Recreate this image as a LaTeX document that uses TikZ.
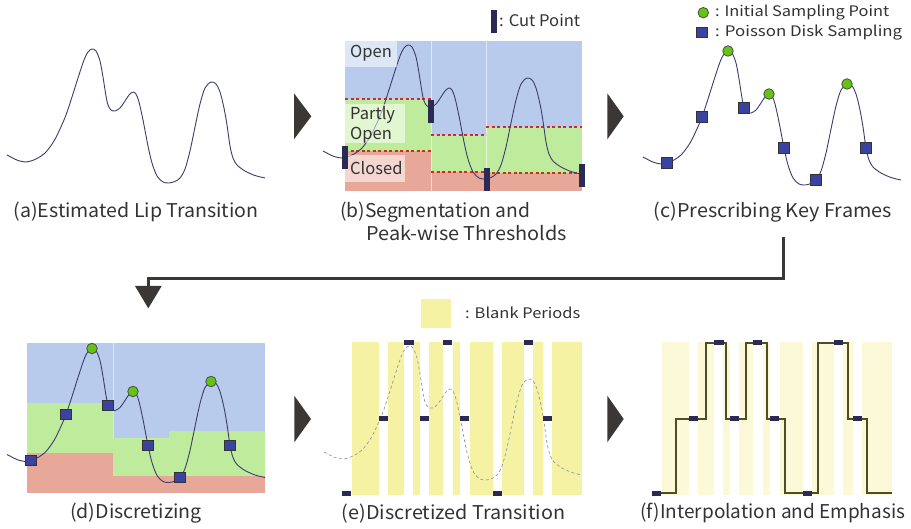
\documentclass[tikz,border=0pt]{standalone}
\usepackage{fontspec}
\usepackage{graphicx}
\setmainfont{Noto Sans CJK JP}
\definecolor{openblue}{RGB}{184,203,236}
\definecolor{partgreen}{RGB}{191,236,156}
\definecolor{closedred}{RGB}{231,168,154}
\definecolor{dashred}{RGB}{205,45,30}
\definecolor{curvecol}{RGB}{60,60,110}
\definecolor{cutcol}{RGB}{42,42,85}
\definecolor{sqfill}{RGB}{58,68,160}
\definecolor{circfill}{RGB}{100,196,20}
\definecolor{blankyellow}{RGB}{245,243,163}
\definecolor{blanklight}{RGB}{251,249,216}
\definecolor{arrowgray}{RGB}{58,55,53}
\definecolor{stepcol}{RGB}{78,78,36}
\definecolor{txt}{RGB}{51,51,51}
\newcommand\fitw[2]{\resizebox{#1}{\height}{#2}}
\newcommand\lipcurve{plot[smooth, tension=0.5] coordinates {(7,155) (18,160.5) (26,162) (31,161) (38,158) (46,152) (54,141) (60,129) (66,115) (72,97) (78,78) (84,60) (88,52) (92,49) (96,51) (100,61) (103,77) (106,96) (108,105) (111,110) (115,111) (120,108) (125,101) (129,95) (133,92) (136,94) (139,102) (143,120) (148,146) (152,163) (157,176) (163,182) (169,183) (175,181.5) (180,178) (185,169) (190,151) (195,127) (200,104) (205,88) (211,82) (216,84) (220,92) (224,108) (227,125) (230,146) (233,158) (237,165) (245,171) (255,175.5) (265,178)}}
\begin{document}
\begin{tikzpicture}[x=1pt,y=-1pt,
  lbl/.style={font=\fontsize{19}{21}\selectfont, text=txt, inner sep=0pt, anchor=west},
  leg/.style={font=\fontsize{14.5}{16}\selectfont, text=txt, inner sep=0pt, anchor=west},
  reg/.style={font=\fontsize{16.5}{18}\selectfont, text=txt, inner sep=0pt, anchor=west},
  lipline/.style={draw=curvecol, line width=0.9pt},
  sqm/.style={draw=black!80, fill=sqfill, minimum size=10.5pt, inner sep=0pt, line width=0.8pt},
  circm/.style={circle, draw=black!70, fill=circfill, minimum size=10.5pt, inner sep=0pt, line width=0.8pt},
  cutmark/.style={fill=cutcol, minimum width=6pt, minimum height=23pt, inner sep=0pt},
  kf/.style={fill=cutcol, minimum width=9.5pt, minimum height=5pt, inner sep=0pt},
  tri/.style={fill=arrowgray},
  conn/.style={draw=arrowgray, line width=3pt},
  thr/.style={draw=dashred, line width=1.7pt, dash pattern=on 3pt off 2.5pt},
  labbox/.style={fill=white, fill opacity=0.55}
]
\useasboundingbox (0,0) rectangle (911,529);
\fill[white] (0,0) rectangle (911,529);

% ---------- (a)
\draw[lipline] \lipcurve;
\node[lbl] (la) at (13.3,211.7) {\fitw{245pt}{(a)Estimated Lip Transition}};

% ---------- (b)
\fill[openblue] (345,41) rectangle (581.7,191);
\fill[partgreen] (345,99.3) rectangle (431,150.7);
\fill[closedred] (345,150.7) rectangle (431,191);
\fill[partgreen] (431,135) rectangle (486,172.3);
\fill[closedred] (431,172.3) rectangle (486,191);
\fill[partgreen] (486,127.3) rectangle (581.7,173.3);
\fill[closedred] (486,173.3) rectangle (581.7,191);
\draw[white, opacity=0.6, line width=0.6pt] (431,41) -- (431,191) (486,41) -- (486,191);
\draw[thr] (345,99.3) -- (431,99.3) (345,150.7) -- (431,150.7);
\draw[thr] (431,135) -- (486,135) (431,172.3) -- (486,172.3);
\draw[thr] (486,127.3) -- (581.7,127.3) (486,173.3) -- (581.7,173.3);
\begin{scope}[shift={(316,-4)}]
\draw[lipline] \lipcurve;
\end{scope}
\fill[labbox] (345,41) rectangle (396.7,66.7);
\fill[labbox] (345,104.3) rectangle (405,143.3);
\fill[labbox] (345,155) rectangle (405,182.3);
\node[reg] (ropen) at (350,53.3) {Open};
\node[reg] (rpart1) at (350,115) {Partly};
\node[reg] (rpart2) at (350,135) {Open};
\node[reg] (rclosed) at (350,167.7) {Closed};
\node[cutmark] (cp1) at (345,157.7) {};
\node[cutmark] (cp2) at (431,111.7) {};
\node[cutmark] (cp3) at (486.7,180) {};
\node[cutmark] (cp4) at (581.7,176) {};
\node[cutmark] (cpleg) at (493.8,21.7) {};
\node[leg, font=\fontsize{16}{18}\selectfont] (cptext) at (499,20.7) {\fitw{81pt}{: Cut Point}};
\node[lbl] (lb1) at (340,211.7) {\fitw{190pt}{(b)Segmentation and}};
\node[lbl] (lb2) at (366.7,233.3) {\fitw{200pt}{Peak-wise Thresholds}};

% ---------- (c)
\begin{scope}[shift={(636,2)}]
\draw[lipline] \lipcurve;
\node[sqm] (c1) at (31,161) {};
\node[sqm] (c2) at (66,115) {};
\node[circm] (c3) at (92,49) {};
\node[sqm] (c4) at (108,106) {};
\node[circm] (c5) at (133,92) {};
\node[sqm] (c6) at (148,146) {};
\node[sqm] (c7) at (180,178) {};
\node[circm] (c8) at (211,82) {};
\node[sqm] (c9) at (230,146) {};
\end{scope}
\node[circm] (legc) at (703.3,12.7) {};
\node[leg] (legct) at (715,12.7) {\fitw{174pt}{: Initial Sampling Point}};
\node[sqm] (legs) at (701.7,32.3) {};
\node[leg] (legst) at (715,32.3) {\fitw{187pt}{: Poisson Disk Sampling}};
\node[lbl] (lc) at (653.3,211.7) {\fitw{238.4pt}{(c)Prescribing Key Frames}};

% ---------- connectors and arrow heads
\coordinate (cstart) at (783.3,236.7);
\coordinate (turn1) at (783.3,279);
\coordinate (turn2) at (148.3,279);
\coordinate (dend) at (148.3,288);
\draw[conn] (cstart) -- (turn1) -- (turn2) -- (dend);
\fill[tri] (135,286) -- (161.7,286) -- (148.3,308.3) -- cycle;
\fill[tri] (294,93.3) -- (311.3,116.3) -- (294,139.3) -- cycle;
\fill[tri] (607.3,93.3) -- (623.7,116.3) -- (607.3,139.3) -- cycle;
\fill[tri] (294.3,395.7) -- (311,419) -- (294.3,442.3) -- cycle;
\fill[tri] (607.3,395.7) -- (623.7,419) -- (607.3,442.3) -- cycle;

% ---------- (d)
\fill[openblue] (26.7,342.7) rectangle (265,493.3);
\fill[partgreen] (26.7,403.3) rectangle (113.3,453.3);
\fill[closedred] (26.7,453.3) rectangle (113.3,493.3);
\fill[partgreen] (113.3,438.3) rectangle (169.3,475.7);
\fill[closedred] (113.3,475.7) rectangle (169.3,493.3);
\fill[partgreen] (169.3,431) rectangle (265,475.7);
\fill[closedred] (169.3,475.7) rectangle (265,493.3);
\draw[white, opacity=0.5, line width=0.6pt] (113.3,342.7) -- (113.3,438.3);
\begin{scope}[shift={(0,299.5)}]
\draw[lipline] \lipcurve;
\node[sqm] (d1) at (31,161) {};
\node[sqm] (d2) at (66,115) {};
\node[circm] (d3) at (92,49) {};
\node[sqm] (d4) at (108,106) {};
\node[circm] (d5) at (133,92) {};
\node[sqm] (d6) at (148,146) {};
\node[sqm] (d7) at (180,178) {};
\node[circm] (d8) at (211,82) {};
\node[sqm] (d9) at (230,146) {};
\end{scope}
\node[lbl] (ld) at (70,513.3) {\fitw{131.7pt}{(d)Discretizing}};

% ---------- (e)
\foreach \a/\b in {351.7/379, 388.3/404, 413.3/420, 429.3/443.3, 453/460.3, 470/492.7, 502.3/524, 533.3/542.7, 552/582}
  \fill[blankyellow] (\a,342) rectangle (\b,495);
\begin{scope}[shift={(317,297)}]
\draw[draw=curvecol!55, line width=0.7pt, dash pattern=on 3pt off 2.5pt] \lipcurve;
\end{scope}
\node[kf] (e1) at (346.7,493.3) {};
\node[kf] (e2) at (383.3,418.7) {};
\node[kf] (e3) at (409,342.7) {};
\node[kf] (e4) at (424.3,418.7) {};
\node[kf] (e5) at (447.7,342.7) {};
\node[kf] (e6) at (464.7,418.7) {};
\node[kf] (e7) at (497.7,493.3) {};
\node[kf] (e8) at (528.7,342.7) {};
\node[kf] (e9) at (547.3,418.7) {};
\node[fill=blankyellow, minimum width=29.7pt, minimum height=29pt, inner sep=0pt] (legy) at (435.8,313.8) {};
\node[leg] (legyt) at (465,312.7) {\fitw{115pt}{: Blank Periods}};
\node[lbl] (le) at (341.7,513.3) {\fitw{223.3pt}{(e)Discretized Transition}};

% ---------- (f)
\foreach \a/\b in {351.7/379, 388.3/404, 413.3/420, 429.3/443.3, 453/460.3, 470/492.7, 502.3/524, 533.3/542.7, 552/582}
  \fill[blanklight] (\a+310,342) rectangle (\b+310,495);
\draw[stepcol, line width=2.2pt, line join=miter] (656.7,493.3) -- (675.7,493.3) -- (675.7,418.7) -- (705.7,418.7) -- (705.7,342.7) -- (726,342.7) -- (726,418.7) -- (745.7,418.7) -- (745.7,342.7) -- (766.7,342.7) -- (766.7,418.7) -- (785,418.7) -- (785,493.3) -- (818.3,493.3) -- (818.3,342.7) -- (848.3,342.7) -- (848.3,418.7) -- (866.7,418.7) -- (866.7,493.3) -- (892.3,493.3);
\node[kf] (f1) at (656.7,493.3) {};
\node[kf] (f2) at (693.3,418.7) {};
\node[kf] (f3) at (719,342.7) {};
\node[kf] (f4) at (734.3,418.7) {};
\node[kf] (f5) at (757.7,342.7) {};
\node[kf] (f6) at (774.7,418.7) {};
\node[kf] (f7) at (807.7,493.3) {};
\node[kf] (f8) at (838.7,342.7) {};
\node[kf] (f9) at (857.3,418.7) {};
\node[lbl] (lf) at (640,513.3) {\fitw{265pt}{(f)Interpolation and Emphasis}};
\end{tikzpicture}
\end{document}
